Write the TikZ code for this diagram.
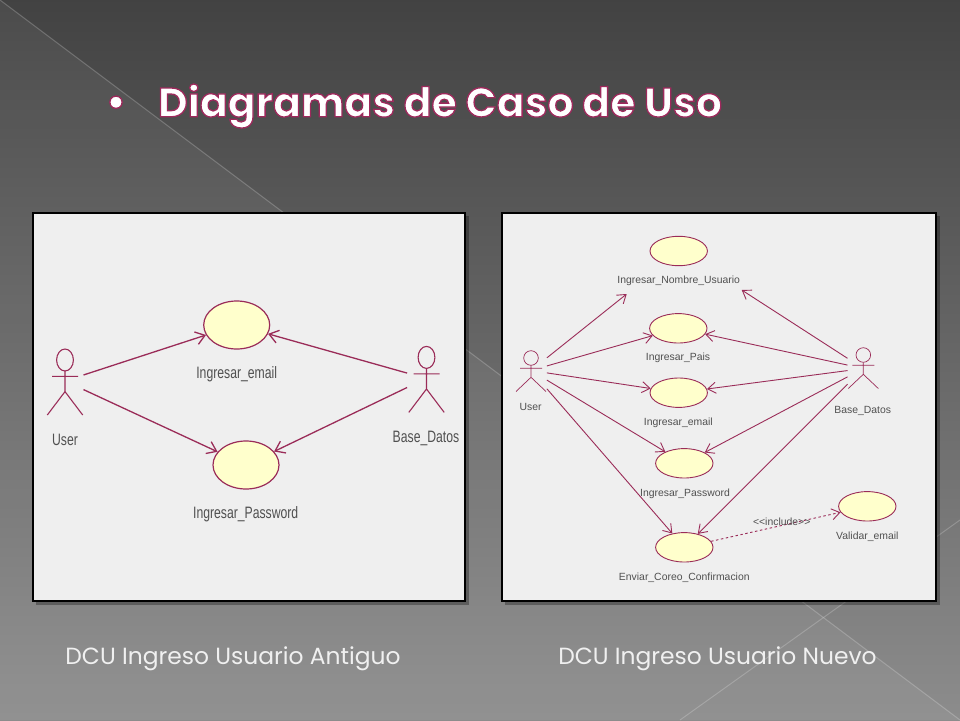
\documentclass[tikz,border=0pt]{standalone}
\usepackage{fontspec}
\setmainfont{Poppins}
\newfontfamily\umlfont[FakeStretch=0.74]{Liberation Sans}
\newfontfamily\umlsmall{Liberation Sans}
\usetikzlibrary{shapes.geometric,arrows.meta}

\definecolor{umlline}{HTML}{9A2C58}
\definecolor{umlfill}{HTML}{FFFFCC}
\definecolor{umltext}{HTML}{505050}
\definecolor{panelgray}{HTML}{EFEFEF}

\newcommand{\outlined}[1]{\special{pdf:code 2 Tr 1.3 w 0.62 0.16 0.36 RG}#1\special{pdf:code 0 Tr}}

\tikzset{
	panel/.style={draw=black,line width=1.1pt,fill=panelgray},
	usecase/.style={ellipse,draw=umlline,fill=umlfill,line width=.9pt,inner sep=0pt},
	bigcase/.style={usecase,line width=1.2pt,minimum width=66pt,minimum height=48pt},
	smallcase/.style={usecase,minimum width=57.4pt,minimum height=29.4pt},
	biglabel/.style={text=umltext,font=\umlfont\fontsize{16.5}{18}\selectfont},
	smalllabel/.style={text=umltext,font=\umlsmall\fontsize{10.4}{12}\selectfont},
	caption/.style={text=white!94!black,font=\fontsize{23.4}{26}\selectfont},
	ucarrow/.style={draw=umlline,line width=.9pt,-{Straight Barb[length=8pt,width=11pt]}},
	bigarrow/.style={draw=umlline,line width=1.3pt,-{Straight Barb[length=9pt,width=13pt]}},
	actorbox/.style={inner sep=0pt,minimum width=#1},
	actor/.pic={
		\draw[umlline,line width=1.1pt] (0,-21) ellipse (8.4 and 11);
		\draw[umlline,line width=1.1pt] (-13,-4.6) -- (13,-4.6) (0,-10) -- (0,10.6)
			(-17.7,34) -- (0,10.6) -- (17.7,34);
	},
	smallactor/.pic={
		\draw[umlline,line width=.7pt] (0,-12.5) circle (7.3);
		\draw[umlline,line width=.7pt] (-11,-2.2) -- (11,-2.2) (0,-5) -- (0,6.8)
			(-15,21) -- (0,6.8) -- (15,21);
	},
}

\begin{document}
\begin{tikzpicture}[x=1pt,y=-1pt]

	\useasboundingbox (0,0) rectangle (960,720);

	% background
	\shade[top color=black!74,bottom color=black!45] (0,0) rectangle (960,720);
	\fill[white,opacity=.05] (0,0) -- (960,720) -- (0,720) -- cycle;
	\draw[white,opacity=.2,line width=1pt] (0,0) -- (960,720);
	\draw[white,opacity=.2,line width=1pt] (680,720) -- (960,520);

	% title
	\node (bullet) at (116,106) [text=white,font=\fontsize{41}{45}\selectfont\bfseries] {\outlined{•}};
	\node (title) at (440,106) [text=white,font=\fontsize{41}{45}\selectfont\bfseries] {\outlined{Diagramas de Caso de Uso}};

	% the two windows
	\fill[black,opacity=.3] (36,216) rectangle (469,605);
	\fill[black,opacity=.3] (505,216) rectangle (940,605);
	\draw[panel] (33,213) rectangle (465,601);
	\draw[panel] (502,213) rectangle (936,601);

	% old login
	\node (oldemail) at (236.7,325) [bigcase] {};
	\node (oldpass) at (246,465) [bigcase] {};
	\node (oldemaillabel) at (236.7,374.5) [biglabel] {Ingresar\_email};
	\node (oldpasslabel) at (245.7,514.2) [biglabel] {Ingresar\_Password};

	\node (olduser) at (65,381) [actorbox=36.6pt,minimum height=70pt] {};
	\node (oldbase) at (426,378.4) [actorbox=37.4pt,minimum height=70pt] {};
	\pic at (65,381) {actor};
	\pic at (426.5,378.4) {actor};
	\node (olduserlabel) at (65,439.8) [biglabel] {User};
	\node (oldbaselabel) at (426,438.2) [biglabel] {Base\_Datos};

	\draw[bigarrow] (olduser) -- (oldemail);
	\draw[bigarrow] (olduser) -- (oldpass);
	\draw[bigarrow] (oldbase) -- (oldemail);
	\draw[bigarrow] (oldbase) -- (oldpass);

	% new login
	\node (newnombre) at (678.7,251) [smallcase] {};
	\node (newpais) at (678.3,328.3) [smallcase] {};
	\node (newemail) at (678.7,392.7) [smallcase] {};
	\node (newpass) at (684.3,463.3) [smallcase] {};
	\node (newenviar) at (684.3,547.3) [smallcase] {};
	\node (newvalidar) at (867.3,506.3) [smallcase] {};

	\node (newnombrelabel) at (678.7,281.2) [smalllabel] {Ingresar\_Nombre\_Usuario};
	\node (newpaislabel) at (678,358.2) [smalllabel] {Ingresar\_Pais};
	\node (newemaillabel) at (678.3,422.8) [smalllabel] {Ingresar\_email};
	\node (newpasslabel) at (685,493.5) [smalllabel] {Ingresar\_Password};
	\node (newenviarlabel) at (684.3,577.5) [smalllabel] {Enviar\_Coreo\_Confirmacion};
	\node (newvalidarlabel) at (867.3,536.5) [smalllabel] {Validar\_email};

	\node (newuser) at (531,370.5) [actorbox=31.4pt,minimum height=63pt] {};
	\node (newbase) at (863.3,368.5) [actorbox=31.2pt,minimum height=63pt] {};
	\pic at (531,370.5) {smallactor};
	\pic at (863.3,367.5) {smallactor};
	\node (newuserlabel) at (530.7,407.2) [smalllabel] {User};
	\node (newbaselabel) at (862.7,410.5) [smalllabel] {Base\_Datos};

	\coordinate (nombreuserend) at (626.7,294);
	\coordinate (nombrebaseend) at (741.7,290);

	\draw[ucarrow] (newuser) -- (nombreuserend);
	\draw[ucarrow] (newuser) -- (newpais);
	\draw[ucarrow] (newuser) -- (newemail);
	\draw[ucarrow] (newuser) -- (newpass);
	\draw[ucarrow] (newuser) -- (newenviar);
	\draw[ucarrow] (newbase) -- (nombrebaseend);
	\draw[ucarrow] (newbase) -- (newpais);
	\draw[ucarrow] (newbase) -- (newemail);
	\draw[ucarrow] (newbase) -- (newpass);
	\draw[ucarrow] (newbase) -- (newenviar);

	\draw[ucarrow,dash pattern=on 2.5pt off 2.5pt] (newenviar) -- (newvalidar);
	\node (includelabel) at (781.7,522.2) [smalllabel] {<{}<include>{}>};

	% captions
	\node (oldcaption) at (233,659) [caption] {DCU Ingreso Usuario Antiguo};
	\node (newcaption) at (717.5,659) [caption] {DCU Ingreso Usuario Nuevo};

\end{tikzpicture}
\end{document}
